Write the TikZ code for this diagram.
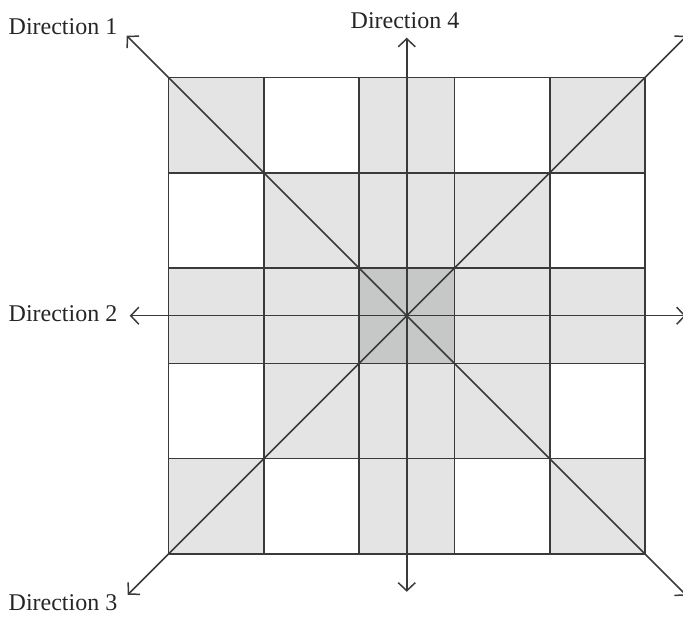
\documentclass[tikz,border=0pt]{standalone}
\usepackage{fontspec}
\setmainfont{Liberation Serif}
\usetikzlibrary{arrows.meta,calc}
\definecolor{lineGray}{HTML}{3A3A3A}
\definecolor{cellLight}{HTML}{E4E4E4}
\definecolor{cellDark}{HTML}{C6C8C8}

\begin{document}
\begin{tikzpicture}[x=1pt, y=1pt,
  gridline/.style={draw=lineGray, line width=1.6pt},
  arr/.style={-{Straight Barb[length=8pt, width=17pt]}, draw=lineGray, line width=1.5pt},
  lbl/.style={font=\fontsize{24}{28}\selectfont, inner sep=0pt, text=black!85}]
\useasboundingbox (0,0) rectangle (683,617);
\def\cs{95.3}
\coordinate (ll) at (168.5,63);
\coordinate (c) at (406.75,301.25);
% cells
\fill[cellLight] (ll) rectangle ++(5*\cs,5*\cs);
\foreach \i/\j in {1/0,3/0,0/1,4/1,0/3,4/3,1/4,3/4}
  \fill[white] ($(ll)+(\i*\cs,\j*\cs)$) rectangle ++(\cs,\cs);
\fill[cellDark] ($(ll)+(2*\cs,2*\cs)$) rectangle ++(\cs,\cs);
% grid
\foreach \k in {0,...,5} {
  \draw[gridline] ($(ll)+(\k*\cs,0)$) -- ++(0,5*\cs);
  \draw[gridline] ($(ll)+(0,\k*\cs)$) -- ++(5*\cs,0);
}
% axes
\coordinate (up) at ($(c)+(0,278)$);
\coordinate (down) at ($(c)+(0,-276)$);
\coordinate (left) at ($(c)+(-277,0)$);
\coordinate (right) at ($(c)+(279,0)$);
\coordinate (nw) at ($(c)+(-280,280)$);
\coordinate (ne) at ($(c)+(280,280)$);
\coordinate (sw) at ($(c)+(-279,-279)$);
\coordinate (se) at ($(c)+(280,-280)$);
\foreach \e in {up,down,left,right,nw,ne,sw,se}
  \draw[arr] (c) -- (\e);
% labels
\node[lbl] (dir1) at (63,590) {Direction 1};
\node[lbl] (dir2) at (63,303) {Direction 2};
\node[lbl] (dir3) at (63,14) {Direction 3};
\node[lbl] (dir4) at (405,596) {Direction 4};
\end{tikzpicture}
\end{document}
